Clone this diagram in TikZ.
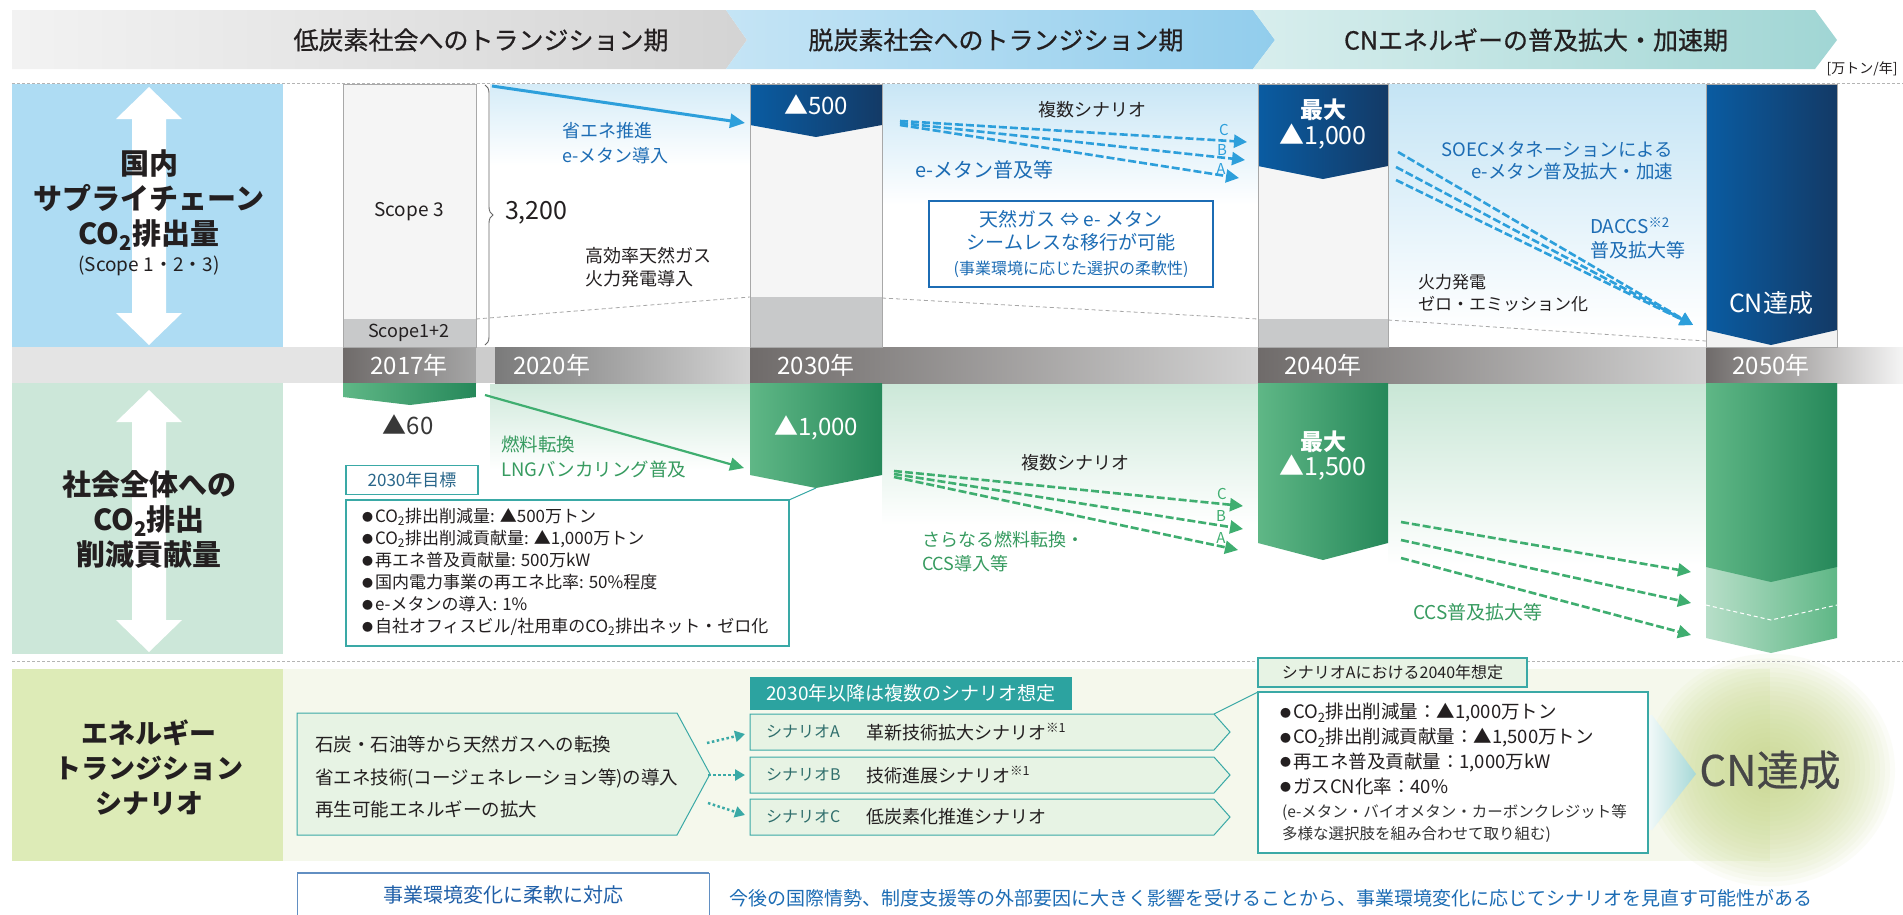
\documentclass[tikz,border=0pt]{standalone}
\usepackage{fontspec}
\setmainfont{Noto Sans CJK JP}
\usetikzlibrary{arrows.meta,decorations.pathreplacing}
\definecolor{lblue}{HTML}{AEDCF3}
\definecolor{lgreen}{HTML}{CCE7D9}
\definecolor{lyel}{HTML}{DDEBB7}
\definecolor{scbg}{HTML}{F5F8EC}
\definecolor{dblueL}{HTML}{0A5CA2}
\definecolor{dblueM}{HTML}{0B5699}
\definecolor{dblueR}{HTML}{133A66}
\definecolor{greenL}{HTML}{5FB786}
\definecolor{greenM}{HTML}{55AF7D}
\definecolor{greenR}{HTML}{26885A}
\definecolor{cyanA}{HTML}{2D9FDB}
\definecolor{greenA}{HTML}{3FAE70}
\definecolor{blueT}{HTML}{1C6CB4}
\definecolor{greenT}{HTML}{379B60}
\definecolor{tealB}{HTML}{3AA9A6}
\definecolor{tealF}{HTML}{2CA3A0}
\definecolor{boxF}{HTML}{E7F3E4}
\definecolor{barL}{HTML}{F5F5F5}
\definecolor{barG}{HTML}{C8C9CA}
\definecolor{barB}{HTML}{A8A8A8}
\definecolor{yrD}{HTML}{6F6B6A}
\definecolor{yrL}{HTML}{D3D3D3}
\definecolor{bandG}{HTML}{E4E4E4}
\definecolor{txtD}{HTML}{231F20}
\definecolor{navyT}{HTML}{1F5FA8}
\definecolor{sclab}{HTML}{2F6E6C}
\definecolor{goalT}{HTML}{29668A}
\definecolor{sepG}{HTML}{B4B4B4}
\definecolor{glowC}{HTML}{C9DA8C}
\newcommand\myfs[2]{\fontsize{#1}{#2}\selectfont}
\newcommand\bul{\raisebox{1.5pt}{\fontsize{11}{11}\selectfont ●}\hspace{2pt}}
\newcommand\cotwo{CO\textsubscript{2}}
\begin{document}
\begin{tikzpicture}[x=1pt,y=-1pt,
  every node/.style={inner sep=0pt,outer sep=0pt,text=txtD},
  hdr/.style={font=\myfs{25}{30}\addfontfeature{FakeBold=0.6}},
  side/.style={font=\myfs{29}{35}\bfseries,align=center},
  yr/.style={font=\myfs{24}{28},text=white},
  sep/.style={draw=sepG,line width=1pt,dash pattern=on 3pt off 2pt},
  gdash/.style={draw=gray!70,line width=0.8pt,dash pattern=on 4pt off 3pt},
  barline/.style={draw=barB,line width=0.8pt},
  cyarrow/.style={draw=cyanA,line width=2.6pt,dash pattern=on 8pt off 3pt,-{Triangle[length=13pt,width=13pt]}},
  grarrow/.style={draw=greenA,line width=2.6pt,dash pattern=on 8pt off 3pt,-{Triangle[length=13pt,width=13pt]}},
  scarrow/.style={draw=tealB,line width=2.5pt,dash pattern=on 2.5pt off 2.5pt,-{Triangle[length=10pt,width=11pt]}},
  sbox/.style={draw=tealB,fill=boxF,line width=1pt},
  whitearrow/.style={fill=white},
]
\useasboundingbox (0,0) rectangle (1903,914);
\fill[white] (0,0) rectangle (1903,914);

% ---------- header chevrons ----------
\shade[left color=black!5,right color=black!17] (12,10) -- (726,10) -- (747,40) -- (726,69) -- (12,69) -- cycle;
\shade[left color=cyanA!28,right color=cyanA!52] (726,10) -- (1253,10) -- (1275,40) -- (1253,69) -- (726,69) -- (747,40) -- cycle;
\shade[left color=tealB!20,right color=tealB!48] (1253,10) -- (1815,10) -- (1837,40) -- (1815,69) -- (1253,69) -- (1275,40) -- cycle;
\node[hdr] (h1) at (481,40) {低炭素社会へのトランジション期};
\node[hdr] (h2) at (996,40) {脱炭素社会へのトランジション期};
\node[hdr] (h3) at (1536,40) {CNエネルギーの普及拡大・加速期};
\node[font=\myfs{14}{16}] (unit) at (1862,69) {[万トン/年]};

% ---------- glows ----------
\shade[top color=cyanA!20,bottom color=white] (490,84) rectangle (750,165);
\shade[top color=cyanA!26,bottom color=white] (882,84) rectangle (1258,205);
\shade[top color=cyanA!28,bottom color=white] (1388,84) rectangle (1706,330);
\shade[top color=greenL!30,bottom color=white] (490,384) rectangle (750,470);
\shade[top color=greenL!32,bottom color=white] (882,384) rectangle (1258,525);
\shade[top color=greenL!34,bottom color=white] (1388,384) rectangle (1706,565);

% ---------- left panels ----------
\fill[lblue] (12,84) rectangle (283,347);
\fill[bandG] (12,347) rectangle (1903,383);
\fill[lgreen] (12,383) rectangle (283,654);
\fill[scbg] (283,669) rectangle (1770,861);
\foreach \r in {125,120,...,5} {
  \fill[glowC,fill opacity=0.065] (1770,770) circle [x radius=\r pt, y radius=0.93*\r pt];
}
\fill[lyel] (12,669) rectangle (283,861);
\draw[sep] (12,83) -- (1903,83);
\draw[sep] (12,661) -- (1903,661);

\fill[whitearrow] (149,87) -- (182,119) -- (166,119) -- (166,313) -- (182,313) -- (149,345) -- (116,313) -- (132,313) -- (132,119) -- (116,119) -- cycle;
\fill[whitearrow] (149,390) -- (182,422) -- (166,422) -- (166,620) -- (182,620) -- (149,652) -- (116,620) -- (132,620) -- (132,422) -- (116,422) -- cycle;
\node[side] (lab1) at (149,200) {国内\\サプライチェーン\\\cotwo 排出量};
\node[font=\myfs{19}{22}] (lab1b) at (149,266) {(Scope 1・2・3)};
\node[side] (lab2) at (149,519) {社会全体への\\\cotwo 排出\\削減貢献量};
\node[side,font=\myfs{27}{35}\bfseries] (lab3) at (149,768) {エネルギー\\トランジション\\シナリオ};

% ---------- time band ----------
\shade[left color=yrD,right color=black!35] (343,347) rectangle (476,383);
\fill[black!20] (476,347) rectangle (495,383);
\shade[left color=black!52,right color=yrL] (495,347) rectangle (750,383);
\shade[left color=yrD,right color=yrL] (750,347) rectangle (1258,383);
\shade[left color=yrD,right color=yrL] (1258,347) rectangle (1706,383);
\shade[left color=yrD,right color=black!4] (1706,347) rectangle (1903,383);
\node[yr] (y2017) at (409,365) {2017年};
\node[yr,anchor=west] (y2020) at (513,365) {2020年};
\node[yr] (y2030) at (816,365) {2030年};
\node[yr] (y2040) at (1323,365) {2040年};
\node[yr] (y2050) at (1771,365) {2050年};

% ---------- upper bars ----------
\fill[barL] (343,84) rectangle (476,319);
\fill[barG] (343,319) rectangle (476,347);
\draw[barline] (343,84) rectangle (476,347);
\node[font=\myfs{19}{22}] (sc3) at (409,212) {Scope 3};
\node[font=\myfs{18}{22}] (sc12) at (409,333) {Scope1+2};
\draw[draw=black!60,line width=0.9pt,decorate,decoration={brace,amplitude=8pt}] (485,85) -- (485,345);
\node[font=\myfs{25}{28},anchor=west] (v3200) at (505,213) {3,200};

\fill[barL] (750,84) rectangle (882,347);
\fill[barG] (750,297) rectangle (882,347);
\shade[left color=dblueL,middle color=dblueM,right color=dblueR] (750,84) -- (882,84) -- (882,125) -- (816,137) -- (750,125) -- cycle;
\draw[barline] (750,84) rectangle (882,347);
\node[font=\myfs{24}{28},text=white] (v500) at (816,105) {▲500};

\fill[barL] (1258,84) rectangle (1388,347);
\fill[barG] (1258,319) rectangle (1388,347);
\shade[left color=dblueL,middle color=dblueM,right color=dblueR] (1258,84) -- (1388,84) -- (1388,166) -- (1323,179) -- (1258,166) -- cycle;
\draw[barline] (1258,84) rectangle (1388,347);
\node[font=\myfs{23}{26}\bfseries,text=white] (max1) at (1323,110) {最大};
\node[font=\myfs{25}{28},text=white] (v1000) at (1323,137) {▲1,000};

\fill[black!5] (1706,84) rectangle (1837,347);
\shade[left color=dblueL,middle color=dblueM,right color=dblueR] (1706,84) -- (1837,84) -- (1837,330) -- (1771,345) -- (1706,330) -- cycle;
\draw[barline] (1706,84) rectangle (1837,347);
\node[font=\myfs{25}{28},text=white] (cn1) at (1771,303) {CN達成};

\draw[gdash] (476,319) -- (750,297);
\draw[gdash] (882,298) -- (1258,319);
\draw[gdash] (1388,320) -- (1706,341);

% upper arrows and labels
\coordinate (ua0) at (492,86);
\coordinate (ua1) at (745,123);
\draw[draw=cyanA,line width=3pt,-{Triangle[length=15pt,width=14pt]}] (ua0) -- (ua1);
\node[font=\myfs{18}{25},text=blueT,align=left,anchor=west] (t1) at (562,143) {省エネ推進\\e-メタン導入};
\node[font=\myfs{18}{23},align=left,anchor=west] (t2) at (585,267) {高効率天然ガス\\火力発電導入};
\node[font=\myfs{18}{22}] (t3) at (1092,110) {複数シナリオ};
\coordinate (uc0) at (900,121); \coordinate (uc1) at (1247,142);
\coordinate (ub0) at (900,123); \coordinate (ub1) at (1245,160);
\coordinate (uab0) at (900,125); \coordinate (uab1) at (1239,178);
\draw[cyarrow] (uc0) -- (uc1);
\draw[cyarrow] (ub0) -- (ub1);
\draw[cyarrow] (uab0) -- (uab1);
\node[font=\myfs{15}{16},text=cyanA] (lc) at (1224,130) {C};
\node[font=\myfs{15}{16},text=cyanA] (lb) at (1222,150) {B};
\node[font=\myfs{15}{16},text=cyanA] (la) at (1221,169) {A};
\node[font=\myfs{20}{22},text=blueT,anchor=west] (t4) at (915,170) {e-メタン普及等};
\node[draw=blueT,line width=1.3pt,fill=white,minimum width=284pt,minimum height=86pt,text=blueT,align=center,font=\myfs{19}{23}] (box1) at (1071,244)
  {天然ガス ⇔ e- メタン\\シームレスな移行が可能\\[2pt]{\myfs{16}{20}(事業環境に応じた選択の柔軟性)}};

\node[font=\myfs{18.5}{22},text=blueT,align=right,anchor=east] (t5) at (1673,161) {SOECメタネーションによる\\e-メタン普及拡大・加速};
\node[font=\myfs{19}{24},text=blueT,align=left,anchor=west] (t6) at (1590,238) {DACCS\textsuperscript{※2}\\普及拡大等};
\node[font=\myfs{17}{22},align=left,anchor=west] (t7) at (1418,293) {火力発電\\ゼロ・エミッション化};
\coordinate (rs1) at (1398,152); \coordinate (rs2) at (1396,167); \coordinate (rs3) at (1396,180);
\coordinate (re) at (1693,325);
\draw[cyarrow] (rs1) -- (re);
\draw[cyarrow] (rs2) -- (re);
\draw[cyarrow] (rs3) -- (re);

% ---------- green bars ----------
\shade[left color=greenL,middle color=greenM,right color=greenR] (343,383) -- (476,383) -- (476,397) -- (410,405) -- (343,397) -- cycle;
\node[font=\myfs{24}{28},text=black!78] (v60) at (408,425) {▲60};
\shade[left color=greenL,middle color=greenM,right color=greenR] (750,383) -- (882,383) -- (882,475) -- (816,488) -- (750,475) -- cycle;
\coordinate (g30tip) at (816,488);
\node[font=\myfs{24}{28},text=white] (g1000) at (816,428) {▲1,000};
\shade[left color=greenL,middle color=greenM,right color=greenR] (1258,383) -- (1388,383) -- (1388,543) -- (1323,560) -- (1258,543) -- cycle;
\node[font=\myfs{23}{26}\bfseries,text=white] (max2) at (1323,442) {最大};
\node[font=\myfs{25}{28},text=white] (g1500) at (1323,468) {▲1,500};
\shade[left color=greenL!45,right color=greenL] (1706,383) -- (1837,383) -- (1837,638) -- (1771,653) -- (1706,638) -- cycle;
\shade[left color=greenL,middle color=greenM,right color=greenR] (1706,383) -- (1837,383) -- (1837,567) -- (1771,582) -- (1706,567) -- cycle;
\draw[white,line width=1pt,dash pattern=on 4pt off 3pt] (1706,605) -- (1771,620) -- (1837,605);

\coordinate (ga0) at (485,395);
\coordinate (ga1) at (744,468);
\draw[draw=greenA,line width=2.2pt,-{Triangle[length=14pt,width=13pt]}] (ga0) -- (ga1);
\node[font=\myfs{18.5}{25},text=greenT,align=left,anchor=west] (t8) at (501,457) {燃料転換\\LNGバンカリング普及};
\node[font=\myfs{18}{22}] (t9) at (1075,463) {複数シナリオ};
\coordinate (gc0) at (894,471); \coordinate (gc1) at (1243,506);
\coordinate (gb0) at (894,474); \coordinate (gb1) at (1243,529);
\coordinate (gab0) at (894,477); \coordinate (gab1) at (1238,550);
\draw[grarrow] (gc0) -- (gc1);
\draw[grarrow] (gb0) -- (gb1);
\draw[grarrow] (gab0) -- (gab1);
\node[font=\myfs{15}{16},text=greenA] (glc) at (1222,494) {C};
\node[font=\myfs{15}{16},text=greenA] (glb) at (1221,516) {B};
\node[font=\myfs{15}{16},text=greenA] (gla) at (1221,538) {A};
\node[font=\myfs{18}{24},text=greenT,align=left,anchor=west] (t10) at (922,552) {さらなる燃料転換・\\CCS導入等};
\coordinate (gs1) at (1401,522); \coordinate (ge1) at (1691,572);
\coordinate (gs2) at (1401,540); \coordinate (ge2) at (1691,603);
\coordinate (gs3) at (1401,558); \coordinate (ge3) at (1691,635);
\draw[grarrow] (gs1) -- (ge1);
\draw[grarrow] (gs2) -- (ge2);
\draw[grarrow] (gs3) -- (ge3);
\node[font=\myfs{19}{22},text=greenT] (t11) at (1478,612) {CCS普及拡大等};

% 2030 target
\node[draw=tealB,line width=1.2pt,fill=white,minimum width=132pt,minimum height=29pt,font=\myfs{17}{20},text=goalT] (goal) at (412,480) {2030年目標};
\node[draw=tealB,line width=1.2pt,fill=white,minimum width=443pt,minimum height=146pt] (goalbox) at (567.5,573) {};
\draw[draw=tealB,line width=1pt] (goalbox.north east) -- (g30tip);
\node[font=\myfs{17}{22},align=left,anchor=west] (goaltxt) at (362,572) {%
\bul\cotwo 排出削減量: ▲500万トン\\
\bul\cotwo 排出削減貢献量: ▲1,000万トン\\
\bul 再エネ普及貢献量: 500万kW\\
\bul 国内電力事業の再エネ比率: 50\%程度\\
\bul e-メタンの導入: 1\%\\
\bul 自社オフィスビル/社用車の\cotwo 排出ネット・ゼロ化};

% ---------- scenario area ----------
\draw[sbox] (297,713) -- (677,713) -- (710,774) -- (677,835) -- (297,835) -- cycle;
\coordinate (chtip) at (710,774);
\node[font=\myfs{18.5}{32.5},align=left,anchor=west] (chtxt) at (315,777) {石炭・石油等から天然ガスへの転換\\省エネ技術(コージェネレーション等)の導入\\再生可能エネルギーの拡大};
\node[fill=tealF,minimum width=322pt,minimum height=33pt,font=\myfs{19}{22},text=white] (schdr) at (911,693.5) {2030年以降は複数のシナリオ想定};
\draw[sbox] (750,714) -- (1214,714) -- (1230,732) -- (1214,750) -- (750,750) -- cycle;
\draw[sbox] (750,757) -- (1214,757) -- (1230,775) -- (1214,793) -- (750,793) -- cycle;
\draw[sbox] (750,799) -- (1214,799) -- (1230,817) -- (1214,835) -- (750,835) -- cycle;
\coordinate (scAin) at (745,734);
\coordinate (scBin) at (745,775);
\coordinate (scCin) at (745,815);
\coordinate (scAcorner) at (1214,714);
\coordinate (chA) at (707,743);
\coordinate (chB) at (708,775);
\coordinate (chC) at (708,803);
\draw[scarrow] (chA) -- (scAin);
\draw[scarrow] (chB) -- (scBin);
\draw[scarrow] (chC) -- (scCin);
\node[font=\myfs{16}{18},text=sclab,anchor=west] (sAl) at (766,732) {シナリオA};
\node[font=\myfs{18}{20},anchor=west] (sAd) at (866,732) {革新技術拡大シナリオ\textsuperscript{※1}};
\node[font=\myfs{16}{18},text=sclab,anchor=west] (sBl) at (766,775) {シナリオB};
\node[font=\myfs{18}{20},anchor=west] (sBd) at (866,775) {技術進展シナリオ\textsuperscript{※1}};
\node[font=\myfs{16}{18},text=sclab,anchor=west] (sCl) at (766,817) {シナリオC};
\node[font=\myfs{18}{20},anchor=west] (sCd) at (866,817) {低炭素化推進シナリオ};

% 2040 assumption
\shade[left color=white,right color=tealB!45] (1640,715) -- (1652,715) -- (1696,774) -- (1652,830) -- (1640,830) -- cycle;
\node[draw=tealB,line width=1.2pt,fill=boxF,minimum width=269pt,minimum height=29pt,font=\myfs{16}{18}] (s40l) at (1392.5,672.5) {シナリオAにおける2040年想定};
\node[draw=tealB,line width=1.2pt,fill=white,minimum width=390pt,minimum height=161pt] (s40box) at (1453,772.5) {};
\draw[draw=tealB,line width=1pt] (scAcorner) -- (s40box.north west);
\node[font=\myfs{18.5}{24.7},align=left,anchor=west] (s40txt) at (1280,749) {%
\bul\cotwo 排出削減量：▲1,000万トン\\
\bul\cotwo 排出削減貢献量：▲1,500万トン\\
\bul 再エネ普及貢献量：1,000万kW\\
\bul ガスCN化率：40\%};
\node[font=\myfs{15.5}{22},align=left,anchor=west,text=black!80] (s40note) at (1282,823) {(e-メタン・バイオメタン・カーボンクレジット等\\多様な選択肢を組み合わせて取り組む)};
\node[font=\myfs{42}{46}\addfontfeature{FakeBold=0.5},text=black!72] (cn2) at (1770,770) {CN達成};

% ---------- bottom ----------
\node[draw=navyT!70,line width=1pt,fill=white,minimum width=412pt,minimum height=50pt,anchor=north west] (flex) at (297,873) {};
\draw[navyT!70,line width=2.5pt] (flex.north west) -- (flex.north east);
\node[font=\myfs{20}{22},text=navyT] (flext) at (503,895) {事業環境変化に柔軟に対応};
\node[font=\myfs{19}{22},text=blueT,anchor=west] (note) at (729,898) {今後の国際情勢、制度支援等の外部要因に大きく影響を受けることから、事業環境変化に応じてシナリオを見直す可能性がある};
\end{tikzpicture}
\end{document}
